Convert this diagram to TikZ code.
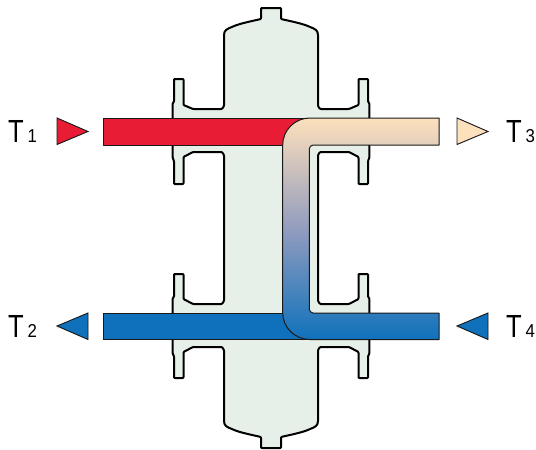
\documentclass[tikz,border=0pt]{standalone}
\usepackage{fontspec}
\newfontfamily\labelfont[FakeStretch=0.8]{Liberation Sans}
\newfontfamily\digitfont[FakeStretch=0.9]{Liberation Sans}
\usetikzlibrary{calc, positioning}

\definecolor{bodygreen}{HTML}{E6F0E8}
\definecolor{hotred}{HTML}{E91C35}
\definecolor{coldblue}{HTML}{0F71BB}
\definecolor{warmcream}{HTML}{FDE0BC}
\definecolor{mixgrey}{HTML}{929CBE}

\newcommand{\tlabel}[1]{{\labelfont\fontsize{24}{24}\selectfont T}\hspace{3pt}{\digitfont\fontsize{14}{14}\selectfont #1}}

\tikzset{
  vesselline/.style={draw=black,line width=1.5pt,fill=bodygreen,rounded corners=0.6pt},
  pipeline/.style={draw=black!90,line width=0.75pt},
  flowmark/.style={draw=black!90,line width=0.7pt,line join=miter},
  templabel/.style={anchor=base west,inner sep=0pt,outer sep=0pt},
}

\begin{document}
\begin{tikzpicture}[x=0.75pt,y=-0.75pt,line cap=round,line join=round]
\path[use as bounding box] (0,0) rectangle (536,450);

% vessel outline, clockwise from the top nozzle
\path[vesselline]
  (261,8) -- (281,8) -- (281,19)
  .. controls (292,21.5) and (302,23.5) .. (309,26.5)
  .. controls (315,29) and (318,30) .. (318,36)
  -- (318,106) -- (320,109) -- (349,109) -- (358.5,105) -- (358.5,79) -- (368,79)
  -- (368,102) -- (369.3,103) -- (369.3,158) -- (368,161) -- (368,184) -- (358.5,184)
  -- (358.5,157) -- (349,152) -- (320,152) -- (318,155)
  -- (318,301) -- (320,304) -- (349,304) -- (358.5,299) -- (358.5,274) -- (368,274)
  -- (368,297) -- (369.3,298) -- (369.3,354) -- (368,356) -- (368,378) -- (358.5,378)
  -- (358.5,352) -- (349,347) -- (320,347) -- (318,350)
  -- (318,420)
  .. controls (318,426) and (315,427) .. (309,429.5)
  .. controls (302,432.5) and (292,434.5) .. (281,437)
  -- (281,448) -- (261,448) -- (261,437)
  .. controls (250,434.5) and (240,432.5) .. (233,429.5)
  .. controls (227,427) and (224,426) .. (224,420)
  -- (224,350) -- (222,347) -- (193,347) -- (183.5,352) -- (183.5,378) -- (174,378)
  -- (174,356) -- (172.7,354) -- (172.7,298) -- (174,297) -- (174,274) -- (183.5,274)
  -- (183.5,299) -- (193,304) -- (222,304) -- (224,301)
  -- (224,155) -- (222,152) -- (193,152) -- (183.5,157) -- (183.5,184) -- (174,184)
  -- (174,161) -- (172.7,158) -- (172.7,103) -- (174,102) -- (174,79) -- (183.5,79)
  -- (183.5,105) -- (193,109) -- (222,109) -- (224,106)
  -- (224,36)
  .. controls (224,30) and (227,29) .. (233,26.5)
  .. controls (240,23.5) and (250,21.5) .. (261,19)
  -- cycle;

% straight pipes
\draw[pipeline,fill=hotred] (103,118) rectangle (306,145);
\draw[pipeline,fill=coldblue] (103,313) rectangle (306,339.5);

% bypass pipe
\draw[pipeline,top color=warmcream,bottom color=coldblue,middle color=mixgrey]
  (439,118) -- (310,118)
  .. controls (295,118) and (282.7,130) .. (282.7,145)
  -- (282.7,312.7)
  .. controls (282.7,327.7) and (295,339.5) .. (310,339.5)
  -- (439,339.5) -- (439,313) -- (313,313)
  .. controls (311,313) and (309.3,311) .. (309.3,309)
  -- (309.3,149)
  .. controls (309.3,147) and (311,145) .. (313,145)
  -- (439,145) -- cycle;

% flow marks
\draw[flowmark,fill=hotred] (57,118) -- (57,144.5) -- (88,131.5) -- cycle;
\draw[flowmark,fill=warmcream] (457,118) -- (457,144.5) -- (488,131.5) -- cycle;
\draw[flowmark,fill=coldblue] (88,313) -- (88,339.5) -- (57,326) -- cycle;
\draw[flowmark,fill=coldblue] (488,313) -- (488,339.5) -- (457,326) -- cycle;

\node[templabel] (tone) at (8,142.7) {\tlabel{1}};
\node[templabel] (ttwo) at (8,337.7) {\tlabel{2}};
\node[templabel] (tthree) at (506,142.7) {\tlabel{3}};
\node[templabel] (tfour) at (506,337.7) {\tlabel{4}};
\end{tikzpicture}
\end{document}
